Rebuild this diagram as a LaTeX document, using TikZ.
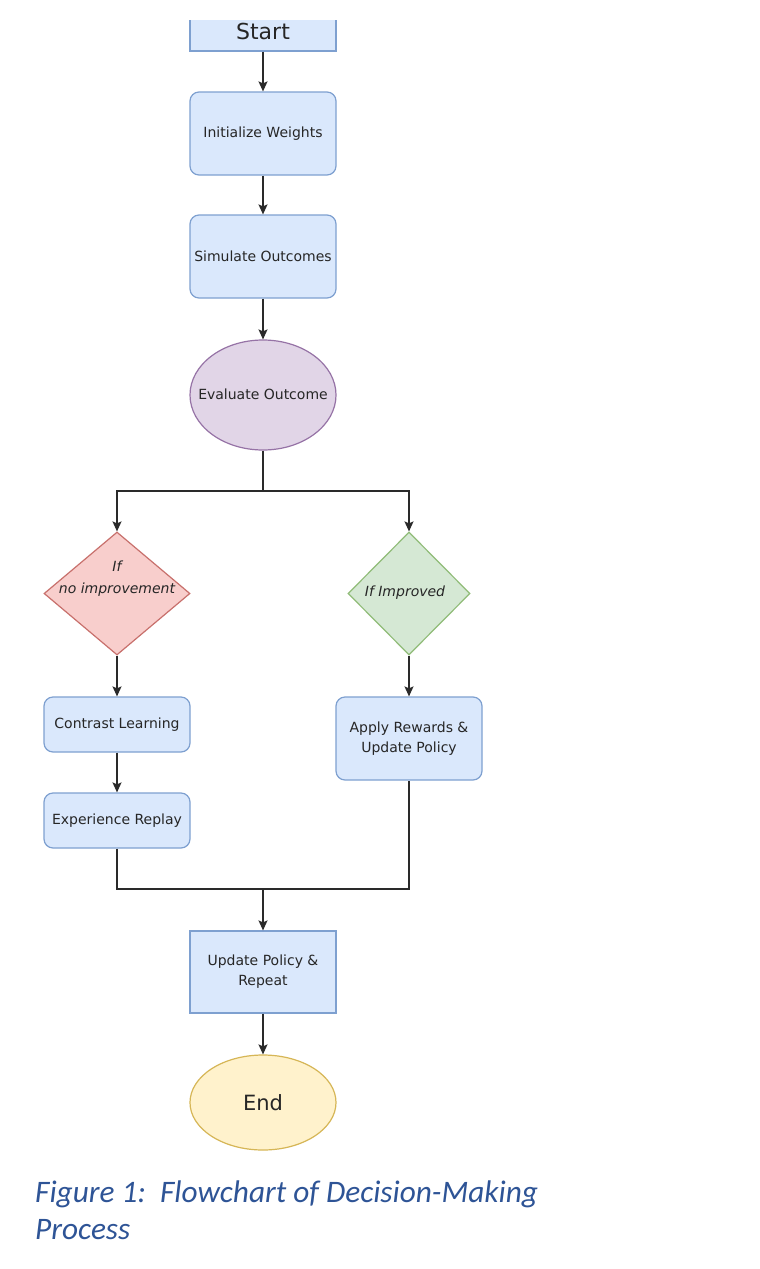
\documentclass[tikz,border=0pt]{standalone}
\usepackage{fontspec}
\setmainfont{DejaVu Sans}
\newfontfamily\capfont{Carlito}
\usetikzlibrary{shapes.geometric,arrows.meta}
\definecolor{bfill}{HTML}{DAE8FC}
\definecolor{bdraw}{HTML}{7EA0D0}
\definecolor{pfill}{HTML}{E1D5E7}
\definecolor{pdraw}{HTML}{9673A6}
\definecolor{rfill}{HTML}{F8CECC}
\definecolor{rdraw}{HTML}{C8706C}
\definecolor{gfill}{HTML}{D5E8D4}
\definecolor{gdraw}{HTML}{90BC78}
\definecolor{yfill}{HTML}{FFF2CC}
\definecolor{ydraw}{HTML}{D6B656}
\definecolor{capblue}{RGB}{46,84,150}
\definecolor{linec}{HTML}{2A2A2A}
\tikzset{
  base/.style={inner sep=0pt, line width=1.2pt, text=black!85, font=\fontsize{14}{20}\selectfont, align=center},
  stepbox/.style={base, rectangle, rounded corners=9pt, fill=bfill, draw=bdraw, minimum width=146pt},
  sqbox/.style={base, rectangle, fill=bfill, draw=bdraw, minimum width=146pt},
  ell/.style={base, ellipse, minimum width=146pt},
  dia/.style={base, diamond, minimum height=123pt},
  lbl/.style={inner sep=0pt, text=black!85, font=\fontsize{14}{20}\selectfont, align=center},
  conn/.style={draw=linec, line width=1.3pt},
  arr/.style={conn, -{Stealth[length=10pt,width=9pt,inset=2pt]}},
  itl/.style={font=\fontsize{14}{22}\selectfont\itshape, text=black!85, align=center}
}
\begin{document}
\begin{tikzpicture}[x=1pt,y=-1pt]
\useasboundingbox[fill=white] (0,0) rectangle (760,1269);
\begin{scope}
\clip (0,20) rectangle (760,1269);
\node[sqbox, minimum height=40pt, font=\fontsize{22}{26}\selectfont] (start) at (263,31) {Start};
\end{scope}
\node[stepbox, minimum height=83pt] (init) at (263,133.5) {Initialize Weights};
\node[stepbox, minimum height=83pt] (sim) at (263,256.5) {Simulate Outcomes};
\node[ell, minimum height=110pt, fill=pfill, draw=pdraw] (eval) at (263,395) {};
\node[lbl] (evaltext) at (263,394) {Evaluate Outcome};
\coordinate (sp) at (263,491);
\node[dia, minimum width=146pt, fill=rfill, draw=rdraw] (nodia) at (117,593.5) {};
\node[itl] (notext) at (117,579) {If\\no improvement};
\node[dia, minimum width=122pt, fill=gfill, draw=gdraw] (impdia) at (409,593.5) {};
\node[itl] (imptext) at (405,593) {If Improved};
\node[stepbox, minimum height=55pt] (contrast) at (117,724.5) {Contrast Learning};
\node[stepbox, minimum height=55pt] (replay) at (117,820.5) {Experience Replay};
\node[stepbox, minimum height=83pt] (apply) at (409,738.5) {Apply Rewards \&\\Update Policy};
\coordinate (mg) at (263,889);
\node[sqbox, minimum height=82pt] (upd) at (263,972) {Update Policy \&\\Repeat};
\node[ell, minimum height=95pt, fill=yfill, draw=ydraw] (endn) at (263,1102.5) {};
\node[lbl, font=\fontsize{21}{26}\selectfont] (endtext) at (263,1102.5) {End};
\node[anchor=base west, inner sep=0pt, align=left, text=capblue, font=\capfont\itshape\fontsize{31.3}{37}\selectfont] (cap) at (35,1239) {Figure 1:\ \ Flowchart of Decision-Making\\Process};
\draw[arr] (start.south) -- (init.north);
\draw[arr] (init.south) -- (sim.north);
\draw[arr] (sim.south) -- (eval.north);
\draw[conn] (eval.south) -- (sp);
\draw[arr] (sp) -| (nodia.north);
\draw[arr] (sp) -| (impdia.north);
\draw[arr] (nodia.south) -- (contrast.north);
\draw[arr] (contrast.south) -- (replay.north);
\draw[arr] (impdia.south) -- (apply.north);
\draw[conn] (replay.south) |- (mg) -| (apply.south);
\draw[arr] (mg) -- (upd.north);
\draw[arr] (upd.south) -- (endn.north);
\end{tikzpicture}
\end{document}
